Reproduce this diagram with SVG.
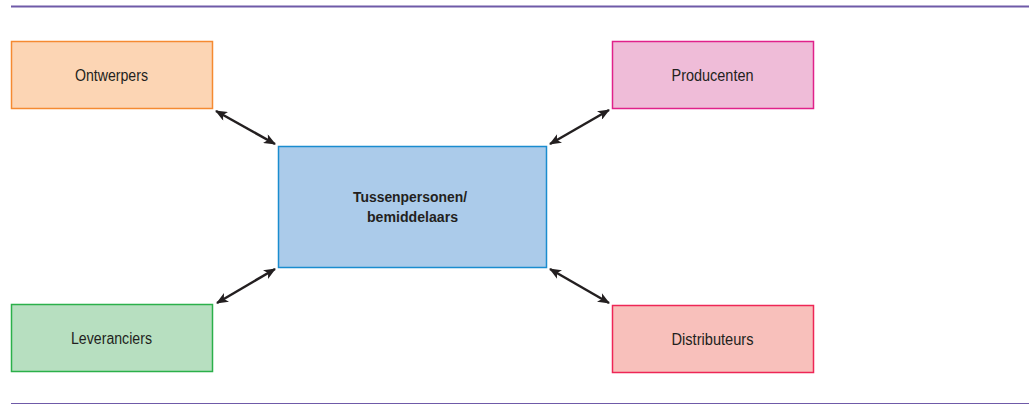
<svg xmlns="http://www.w3.org/2000/svg" width="1029" height="404" viewBox="0 0 1029 404">
<style>
.lbl{font-family:"Liberation Sans Narrow","Liberation Sans",Arial,sans-serif;font-size:16px;fill:#231f20;text-anchor:middle}
.bold{font-weight:bold;font-size:14.5px}
.conn line{stroke:#231f20;stroke-width:2.5;marker-start:url(#ah);marker-end:url(#ah)}
</style>
<defs>
<marker id="ah" viewBox="0 0 12 10" refX="11" refY="5" markerWidth="13" markerHeight="10" markerUnits="userSpaceOnUse" orient="auto-start-reverse">
<path d="M0,0 L12,5 L0,10 L3,5 Z" fill="#231f20"/>
</marker>
</defs>
<rect width="1029" height="404" fill="#fff"/>
<line x1="11" y1="6.5" x2="1029" y2="6.5" stroke="#6f5aa8" stroke-width="2"/>
<line x1="11" y1="403.5" x2="1029" y2="403.5" stroke="#6f5aa8" stroke-width="1"/>
<g id="ontwerpers">
<rect x="11.5" y="41.5" width="201" height="67" fill="#fcd5b4" stroke="#f58a31" stroke-width="1.5"/>
<text class="lbl" x="111.5" y="81" textLength="73" lengthAdjust="spacingAndGlyphs">Ontwerpers</text>
</g>
<g id="producenten">
<rect x="612.5" y="41.5" width="201" height="67" fill="#efbcd8" stroke="#e0218a" stroke-width="1.5"/>
<text class="lbl" x="712.5" y="81" textLength="82" lengthAdjust="spacingAndGlyphs">Producenten</text>
</g>
<g id="tussenpersonen">
<rect x="278.5" y="146.5" width="268" height="121" fill="#abcbea" stroke="#1a8ccf" stroke-width="1.5"/>
<text class="lbl bold" x="410" y="201.5" textLength="114" lengthAdjust="spacingAndGlyphs">Tussenpersonen/</text>
<text class="lbl bold" x="412.5" y="222.3" textLength="91" lengthAdjust="spacingAndGlyphs">bemiddelaars</text>
</g>
<g id="leveranciers">
<rect x="11.5" y="304.5" width="201" height="67" fill="#b7dfc0" stroke="#2bb04a" stroke-width="1.5"/>
<text class="lbl" x="111.5" y="343.5" textLength="81" lengthAdjust="spacingAndGlyphs">Leveranciers</text>
</g>
<g id="distributeurs">
<rect x="612.5" y="305.5" width="201" height="67" fill="#f8c0bb" stroke="#ee2656" stroke-width="1.5"/>
<text class="lbl" x="712.5" y="344.5" textLength="82" lengthAdjust="spacingAndGlyphs">Distributeurs</text>
</g>
<g id="connectors" class="conn">
<line x1="216" y1="111" x2="275" y2="144"/>
<line x1="550" y1="144" x2="609" y2="110"/>
<line x1="217" y1="303" x2="275" y2="269"/>
<line x1="550" y1="269" x2="609" y2="303"/>
</g>
</svg>
